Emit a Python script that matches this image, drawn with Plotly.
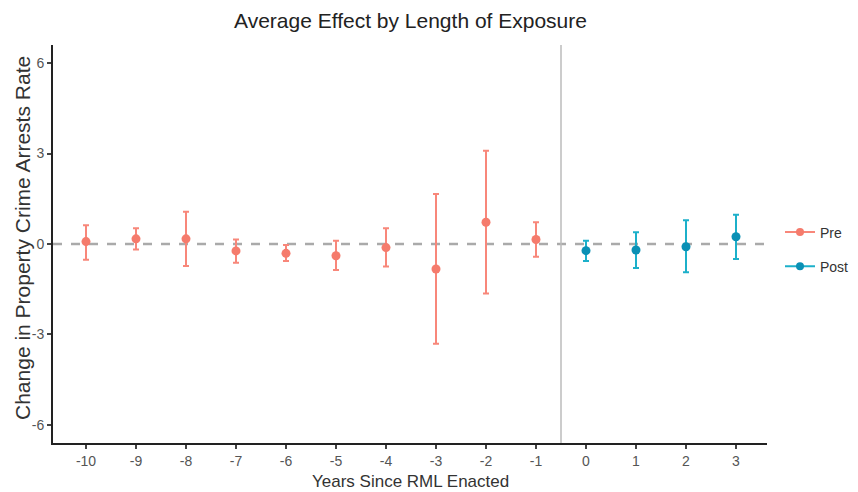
import plotly.graph_objects as go

pre_years = [-10, -9, -8, -7, -6, -5, -4, -3, -2, -1]
pre_est = [0.08, 0.17, 0.17, -0.23, -0.31, -0.39, -0.12, -0.83, 0.72, 0.15]
pre_lo = [-0.52, -0.18, -0.73, -0.62, -0.56, -0.86, -0.75, -3.31, -1.64, -0.42]
pre_hi = [0.62, 0.52, 1.07, 0.15, -0.03, 0.11, 0.52, 1.66, 3.09, 0.72]

post_years = [0, 1, 2, 3]
post_est = [-0.22, -0.20, -0.09, 0.24]
post_lo = [-0.56, -0.80, -0.94, -0.50]
post_hi = [0.11, 0.39, 0.79, 0.97]

x_ticks = list(range(-10, 4))
y_ticks = [-6, -3, 0, 3, 6]

PRE_PT = "#F57B6C"
PRE_ERR = "#F8877A"
POST_PT = "#0A90B5"
POST_ERR = "#1CB0CA"

fig = go.Figure()


def add_series(name, xs, est, lo, hi, pt_col, err_col):
    fig.add_trace(go.Scatter(
        x=xs, y=est, mode="markers", name=name,
        marker=dict(size=9, color=pt_col),
        error_y=dict(
            type="data", symmetric=False,
            array=[h - e for h, e in zip(hi, est)],
            arrayminus=[e - l for e, l in zip(est, lo)],
            color=err_col, thickness=2, width=3,
        ),
        legendgroup=name, showlegend=False,
    ))
    # legend entry (line + marker glyph)
    fig.add_trace(go.Scatter(
        x=[None], y=[None], mode="lines+markers", name=name,
        line=dict(width=2, color=err_col),
        marker=dict(size=8, color=pt_col),
        legendgroup=name, showlegend=True,
    ))


add_series("Pre", pre_years, pre_est, pre_lo, pre_hi, PRE_PT, PRE_ERR)
add_series("Post", post_years, post_est, post_lo, post_hi, POST_PT, POST_ERR)

fig.add_hline(y=0, line=dict(color="#AAAAAA", width=2.5, dash="dash"), layer="below")
fig.add_vline(x=-0.5, line=dict(color="#BBBBBB", width=1.5), layer="below")

FONT = "Liberation Sans, Arial, sans-serif"
# plot area in screen pixels: x 53..767, y 45..443 (page has 8px body margin)
PW, PH = 714, 398

fig.add_annotation(text="Average Effect by Length of Exposure", xref="paper", yref="paper",
                   x=(410 - 53) / PW, y=1 + (45 - 20) / PH, xanchor="center", yanchor="middle",
                   showarrow=False, font=dict(size=21, color="#222222", family=FONT))
fig.add_annotation(text="Years Since RML Enacted", xref="paper", yref="paper",
                   x=(410 - 53) / PW, y=-(481 - 443) / PH, xanchor="center", yanchor="middle",
                   showarrow=False, font=dict(size=17, color="#333333", family=FONT))
fig.add_annotation(text="Change in Property Crime Arrests Rate", xref="paper", yref="paper",
                   x=-(53 - 22) / PW, y=(443 - 238) / PH, xanchor="center", yanchor="middle",
                   textangle=-90, showarrow=False,
                   font=dict(size=21, color="#333333", family=FONT))

axis_common = dict(
    showgrid=False, zeroline=False, automargin=False,
    showline=True, linecolor="#222222", linewidth=2,
    ticks="outside", ticklen=4, tickwidth=1.5, tickcolor="#444444",
    tickfont=dict(size=14, color="#555555", family=FONT),
)

fig.update_layout(
    width=850, height=484,
    margin=dict(l=45, r=91, t=37, b=49, autoexpand=False),
    paper_bgcolor="white", plot_bgcolor="white",
    font=dict(family=FONT, color="#333333"),
    legend=dict(x=(780 - 53) / PW, y=(443 - 249.5) / PH, xanchor="left", yanchor="middle",
                font=dict(size=14, color="#333333", family=FONT), tracegroupgap=13,
                bgcolor="rgba(0,0,0,0)"),
    xaxis=dict(range=[-10.66, 3.62], tickmode="array", tickvals=x_ticks,
               ticktext=[str(v) for v in x_ticks], **axis_common),
    yaxis=dict(range=[-6.6, 6.6], tickmode="array", tickvals=y_ticks,
               ticktext=[str(v) for v in y_ticks], **axis_common),
)

fig.write_html("out.html")
